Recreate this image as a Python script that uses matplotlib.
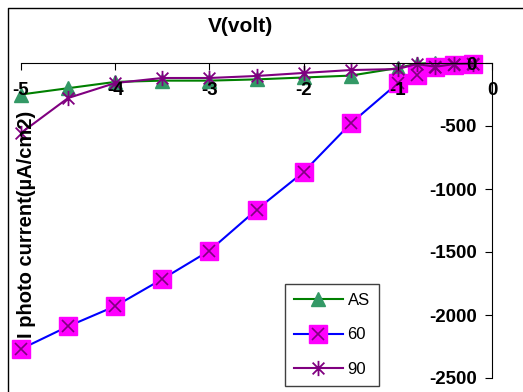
import numpy as np
import matplotlib.pyplot as plt
from matplotlib.path import Path
from matplotlib.legend_handler import HandlerTuple

plt.rcParams['font.family'] = ['Liberation Sans', 'DejaVu Sans']
plt.rcParams['axes.unicode_minus'] = False

volts = [-5, -4.5, -4, -3.5, -3, -2.5, -2, -1.5, -1, -0.8, -0.6, -0.4, -0.2]
as_cur = [-250, -200, -150, -140, -140, -130, -115, -100, -40, -5, 0, 0, 0]
cur_60 = [-2270, -2090, -1930, -1715, -1490, -1165, -865, -480, -160, -95, -35, -15, -5]
cur_90 = [-555, -278, -159, -119, -119, -103, -79, -56, -48, -8, -30, -8, -5]

# excel style star marker: X with a vertical bar
star = Path([(-1, -1), (1, 1), (-1, 1), (1, -1), (0, -1.3), (0, 1.3)],
            [Path.MOVETO, Path.LINETO, Path.MOVETO, Path.LINETO, Path.MOVETO, Path.LINETO])

fig = plt.figure(figsize=(5.23, 3.92), dpi=100)
ax = fig.add_axes([21/523, 1 - 378/392, 471/523, 315/392])

h_as, = ax.plot(volts, as_cur, color='#008000', lw=1.5, marker='^', ms=10,
                mfc='#339966', mec='#339966', clip_on=False, zorder=1)
h_60, = ax.plot(volts, cur_60, color='#0000FF', lw=1.5, marker='s', ms=12.5,
                mfc='#FF00FF', mec='#FF00FF', clip_on=False, zorder=1)
h_60x, = ax.plot(volts, cur_60, ls='none', marker='x', ms=9, mew=1.2,
                 color='#800080', clip_on=False, zorder=1)
h_90, = ax.plot(volts, cur_90, color='#800080', lw=1.5, marker=star, ms=11,
                mew=1.3, mec='#800080', clip_on=False, zorder=1)

ax.set_xlim(-5, 0)
ax.set_ylim(-2500, 0)
ax.spines['bottom'].set_position(('data', 0))
ax.spines['left'].set_position(('data', 0))
ax.spines['top'].set_visible(False)
ax.spines['right'].set_visible(False)
ax.set_xticks(np.arange(-5, 1, 1))
ax.set_yticks(np.arange(-2500, 1, 500))
ax.tick_params(axis='x', direction='out', length=5, pad=9, labelsize=13.5)
ax.tick_params(axis='y', direction='out', length=5, pad=6, labelsize=13.5)
for lab in ax.get_xticklabels() + ax.get_yticklabels():
    lab.set_fontweight('bold')

fig.text(240/523, 1 - 27/392, 'V(volt)', ha='center', va='center',
         fontsize=15, fontweight='bold')
fig.text(27/523, 1 - 224/392, 'I photo current(µA/cm2)', ha='center', va='center',
         rotation=90, fontsize=14.5, fontweight='bold')

leg = ax.legend([h_as, (h_60, h_60x), h_90], ['AS', '60', '90'],
                handler_map={tuple: HandlerTuple(ndivide=1)},
                loc='upper left', bbox_to_anchor=(285/523, 1 - 284/392),
                bbox_transform=fig.transFigure, fontsize=12, handlelength=2.9,
                labelspacing=1.15, borderaxespad=0, fancybox=False,
                framealpha=1, edgecolor='#404040', borderpad=0.55,
                handletextpad=0.3)
leg.get_frame().set_linewidth(1)

fig.add_artist(plt.Line2D([8/523, 8/523, 1.01], [-0.01, 1 - 8/392, 1 - 8/392],
                          transform=fig.transFigure, color='black', lw=1))

fig.savefig('out.png', dpi=100)
